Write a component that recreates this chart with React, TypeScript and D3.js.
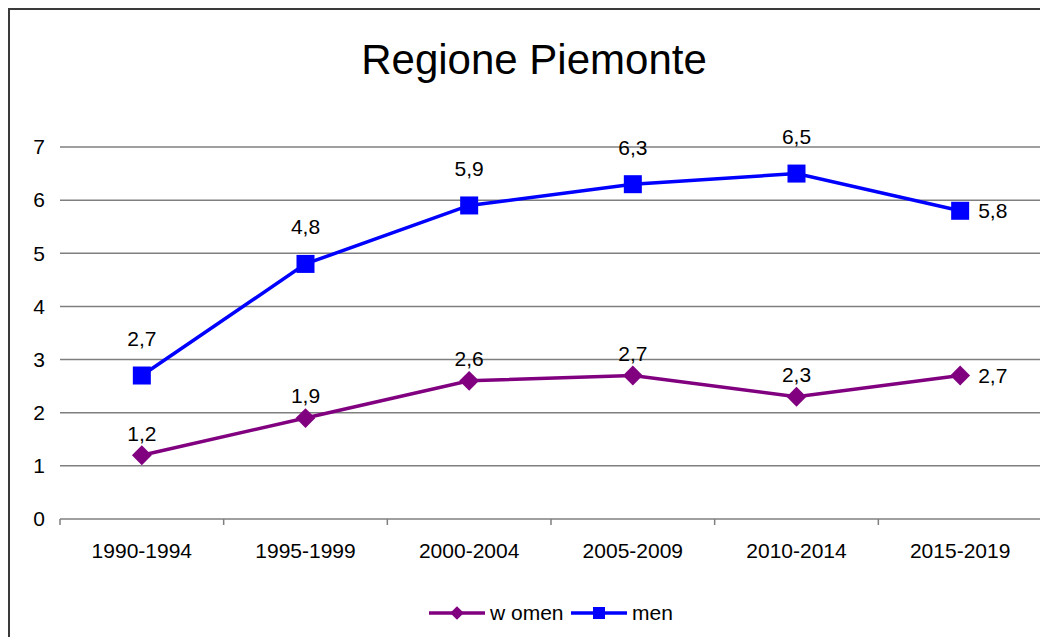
import React, { useEffect, useRef } from 'react';
import * as d3 from 'd3';

const periods = ['1990-1994', '1995-1999', '2000-2004', '2005-2009', '2010-2014', '2015-2019'];
const women = [1.2, 1.9, 2.6, 2.7, 2.3, 2.7];
const men = [2.7, 4.8, 5.9, 6.3, 6.5, 5.8];
const yTicks = [0, 1, 2, 3, 4, 5, 6, 7];

const App = () => {
  const svgRef = useRef<SVGSVGElement>(null);

  useEffect(() => {
    const W = 1040;
    const H = 629;
    const margin = { top: 139, right: 6, bottom: 118, left: 52 };
    const width = W - margin.left - margin.right;
    const height = H - margin.top - margin.bottom;
    const font = '"Liberation Sans", Arial, sans-serif';
    const fs = '21px';

    const svg = d3.select(svgRef.current);
    svg.selectAll('*').remove();
    svg.attr('width', W).attr('height', H).style('display', 'block');

    // frame (only left and top edges show in the crop)
    svg.append('rect')
      .attr('x', 1).attr('y', 1)
      .attr('width', W + 20).attr('height', H + 20)
      .attr('fill', 'white')
      .attr('stroke', '#3a3a3a')
      .attr('stroke-width', 2);

    svg.append('text')
      .attr('x', 526).attr('y', 66)
      .attr('text-anchor', 'middle')
      .style('font-family', font)
      .style('font-size', '42px')
      .text('Regione Piemonte');

    const g = svg.append('g').attr('transform', `translate(${margin.left},${margin.top})`);

    const x = d3.scaleBand().domain(periods).range([0, width]);
    const y = d3.scaleLinear().domain([0, 7]).range([height, 0]);
    const cx = (i: number) => (x(periods[i]) as number) + x.bandwidth() / 2;

    // gridlines
    g.selectAll('.grid')
      .data(yTicks)
      .enter()
      .append('line')
      .attr('x1', 0).attr('x2', width)
      .attr('y1', d => y(d)).attr('y2', d => y(d))
      .attr('stroke', '#7f7f7f')
      .attr('stroke-width', 1.5);

    g.selectAll('.ylab')
      .data(yTicks)
      .enter()
      .append('text')
      .attr('x', -15)
      .attr('y', d => y(d))
      .attr('dy', '0.35em')
      .attr('text-anchor', 'end')
      .style('font-family', font)
      .style('font-size', fs)
      .text(d => String(d));

    // x axis ticks at category boundaries
    const bounds = periods.map((p) => x(p) as number).concat([width]);
    g.selectAll('.xtick')
      .data(bounds)
      .enter()
      .append('line')
      .attr('x1', d => d).attr('x2', d => d)
      .attr('y1', height).attr('y2', height + 6)
      .attr('stroke', '#7f7f7f')
      .attr('stroke-width', 1.5);

    g.selectAll('.xlab')
      .data(periods)
      .enter()
      .append('text')
      .attr('x', d => (x(d) as number) + x.bandwidth() / 2)
      .attr('y', height + 39)
      .attr('text-anchor', 'middle')
      .style('font-family', font)
      .style('font-size', fs)
      .text(d => d);

    const line = d3.line<number>().x((_, i) => cx(i)).y(d => y(d));
    const diamond = d3.symbol().type(d3.symbolDiamond2).size(250);

    const series = [
      { values: women, color: '#800080', marker: 'diamond', lift: 22 },
      { values: men, color: '#0000ff', marker: 'square', lift: 37 },
    ];

    series.forEach(s => {
      g.append('path')
        .datum(s.values)
        .attr('d', line)
        .attr('fill', 'none')
        .attr('stroke', s.color)
        .attr('stroke-width', 3.5);

      s.values.forEach((v, i) => {
        if (s.marker === 'square') {
          g.append('rect')
            .attr('x', cx(i) - 9).attr('y', y(v) - 9)
            .attr('width', 18).attr('height', 18)
            .attr('fill', s.color);
        } else {
          g.append('path')
            .attr('d', diamond)
            .attr('transform', `translate(${cx(i)},${y(v)})`)
            .attr('fill', s.color);
        }
        const last = i === s.values.length - 1;
        g.append('text')
          .attr('x', last ? cx(i) + 18 : cx(i))
          .attr('y', last ? y(v) : y(v) - s.lift)
          .attr('dy', '0.35em')
          .attr('text-anchor', last ? 'start' : 'middle')
          .style('font-family', font)
          .style('font-size', fs)
          .text(String(v).replace('.', ','));
      });
    });

    // legend
    const legend = svg.append('g').attr('transform', 'translate(0,605)');
    const items = [
      { label: 'w omen', color: '#800080', marker: 'diamond', x0: 421 },
      { label: 'men', color: '#0000ff', marker: 'square', x0: 563 },
    ];
    items.forEach(it => {
      legend.append('line')
        .attr('x1', it.x0).attr('x2', it.x0 + 56)
        .attr('y1', 0).attr('y2', 0)
        .attr('stroke', it.color)
        .attr('stroke-width', 3.5);
      if (it.marker === 'square') {
        legend.append('rect')
          .attr('x', it.x0 + 28 - 6).attr('y', -6)
          .attr('width', 12).attr('height', 12)
          .attr('fill', it.color);
      } else {
        legend.append('path')
          .attr('d', d3.symbol().type(d3.symbolDiamond2).size(120))
          .attr('transform', `translate(${it.x0 + 28},0)`)
          .attr('fill', it.color);
      }
      legend.append('text')
        .attr('x', it.x0 + 61)
        .attr('y', 0)
        .attr('dy', '0.35em')
        .style('font-family', font)
        .style('font-size', fs)
        .text(it.label);
    });
  }, []);

  return <svg ref={svgRef}></svg>;
};

export default App;
